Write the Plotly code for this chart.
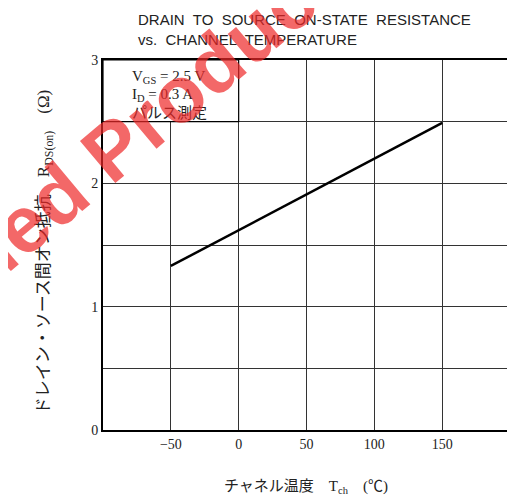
import plotly.graph_objects as go

# Data
temp_c = [-50, 150]
rds_on = [1.33, 2.49]
x_ticks = [-50, 0, 50, 100, 150]
y_ticks = [0, 1, 2, 3]
title_lines = ["DRAIN  TO  SOURCE  ON-STATE  RESISTANCE", "vs.  CHANNEL  TEMPERATURE"]
cond_lines = ["V<sub>GS</sub> = 2.5 V", "I<sub>D</sub> = 0.3 A", "パルス測定"]

serif = "Liberation Serif, Noto Sans CJK JP"
sans = "Liberation Sans, Noto Sans CJK JP"

fig = go.Figure()
fig.add_trace(go.Scatter(x=temp_c, y=rds_on, mode="lines",
                         line=dict(color="black", width=2.5), showlegend=False))

OFF = 8  # page body margin
W, H = 515 - OFF, 502 - OFF
L, R, T, B = 103 - OFF, 3, 60 - OFF, 72
pw, ph = W - L - R, H - T - B

def px(xp):
    return (xp - OFF - L) / pw

def py(yp):
    return (H - B - (yp - OFF)) / ph

fig.update_layout(
    width=W, height=H,
    margin=dict(l=L, r=R, t=T, b=B),
    paper_bgcolor="white", plot_bgcolor="white",
    xaxis=dict(range=[-100, 200], tickvals=x_ticks, showgrid=True,
               gridcolor="#333", gridwidth=1, zeroline=False,
               showline=True, linecolor="black", linewidth=2, mirror=True,
               ticks="", tickfont=dict(family=serif, size=14, color="#222")),
    yaxis=dict(range=[0, 3], tickvals=y_ticks, showgrid=True,
               gridcolor="#333", gridwidth=1, zeroline=False,
               showline=True, linecolor="black", linewidth=2, mirror=True,
               ticks="", tickfont=dict(family=serif, size=14, color="#222"),
               minor=dict(dtick=0.5, showgrid=True, gridcolor="#333", gridwidth=1)),
)

# Condition box
fig.add_shape(type="rect", xref="x", yref="y", x0=-100, x1=0, y0=2.5, y1=3,
              fillcolor="white", line=dict(color="black", width=1.2), layer="above")
for i, t in enumerate(cond_lines):
    fig.add_annotation(xref="paper", yref="paper", x=px(130), y=py(77 + 18 * i),
                       text=t, showarrow=False, xanchor="left", yanchor="middle",
                       font=dict(family=serif, size=15, color="#222"))

# Title
fig.add_annotation(xref="paper", yref="paper", x=px(136), y=py(9),
                   text="<br>".join(title_lines), showarrow=False,
                   xanchor="left", yanchor="top", align="left",
                   font=dict(family=sans, size=15, color="#222"))

# Axis titles
fig.add_annotation(xref="paper", yref="paper", x=px(307), y=py(487),
                   text="チャネル温度　T<sub>ch</sub>　(℃)", showarrow=False,
                   xanchor="center", yanchor="middle",
                   font=dict(family=serif, size=15, color="#222"))
fig.add_annotation(xref="paper", yref="paper", x=px(45), y=py(252),
                   text="ドレイン・ソース間オン抵抗　R<sub>DS(on)</sub>　(Ω)",
                   showarrow=False, textangle=-90, xanchor="center", yanchor="middle",
                   font=dict(family=serif, size=17, color="#222"))

# Watermark
fig.add_annotation(xref="paper", yref="paper", x=px(6), y=py(238),
                   text="<b>Discontinued Product</b>", showarrow=False, textangle=-40,
                   xanchor="center", yanchor="middle",
                   font=dict(family="Liberation Sans", size=80, color="rgba(238,40,40,0.7)"))

fig.write_html("out.html")
